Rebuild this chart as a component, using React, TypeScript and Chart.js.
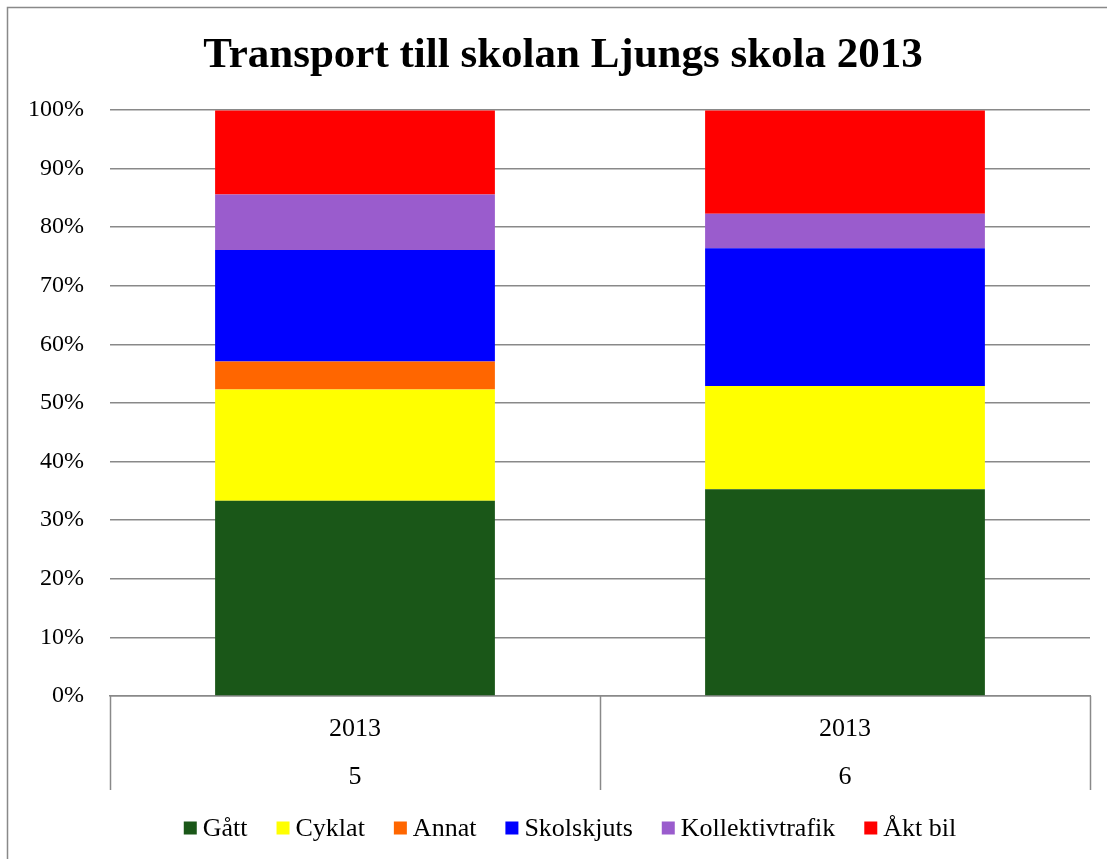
import React, { useEffect, useRef } from "react";
import { Chart, registerables } from "chart.js";

Chart.register(...registerables);

const categories: string[][] = [["2013", "5"], ["2013", "6"]];
const seriesNames = ["Gått", "Cyklat", "Annat", "Skolskjuts", "Kollektivtrafik", "Åkt bil"];
const gatt = [33.3, 35.3];
const cyklat = [19.0, 17.6];
const annat = [4.8, 0];
const skolskjuts = [19.0, 23.5];
const kollektivtrafik = [9.5, 5.9];
const aktBil = [14.3, 17.6];
const seriesColors = ["#1a5718", "#ffff00", "#ff6600", "#0000ff", "#9a5ccd", "#ff0000"];
const yTicks = [0, 10, 20, 30, 40, 50, 60, 70, 80, 90, 100];
const title = "Transport till skolan Ljungs skola 2013";

const W = 1107;
const H = 859;
const FONT = "'Liberation Serif', 'Times New Roman', serif";
const GRID = "#898989";

const decorPlugin = {
  id: "decor",
  afterDraw(chart: any) {
    const ctx = chart.ctx as CanvasRenderingContext2D;
    const area = chart.chartArea;
    const xs = chart.scales.x;
    ctx.save();
    // outer border (top & left visible)
    ctx.strokeStyle = GRID;
    ctx.lineWidth = 1.5;
    ctx.beginPath();
    ctx.moveTo(7.5, H);
    ctx.lineTo(7.5, 7.5);
    ctx.lineTo(W, 7.5);
    ctx.stroke();
    // category separators below axis
    const p0 = xs.getPixelForValue(0);
    const p1 = xs.getPixelForValue(1);
    const mid = (p0 + p1) / 2;
    ctx.lineWidth = 1.5;
    [area.left, mid, area.right].forEach((x: number) => {
      ctx.beginPath();
      ctx.moveTo(Math.round(x) + 0.5, area.bottom);
      ctx.lineTo(Math.round(x) + 0.5, 790);
      ctx.stroke();
    });
    // title
    ctx.fillStyle = "#000";
    ctx.font = `bold 43px ${FONT}`;
    ctx.textAlign = "center";
    ctx.textBaseline = "middle";
    ctx.fillText(title, 563, 56);
    // legend
    ctx.font = `26px ${FONT}`;
    const box = 13;
    const gapBox = 6;
    const gapItem = 29;
    const ds = chart.data.datasets;
    const widths = ds.map((d: any) => ctx.measureText(d.label).width);
    let total = 0;
    widths.forEach((w: number, i: number) => {
      total += box + gapBox + w + (i < widths.length - 1 ? gapItem : 0);
    });
    let x = 570 - total / 2;
    const y = 828;
    ctx.textAlign = "left";
    ds.forEach((d: any, i: number) => {
      ctx.fillStyle = d.backgroundColor;
      ctx.fillRect(x, y - box / 2, box, box);
      ctx.fillStyle = "#000";
      ctx.fillText(d.label, x + box + gapBox, y + 1);
      x += box + gapBox + widths[i] + gapItem;
    });
    ctx.restore();
  },
};

export default function App() {
  const ref = useRef<HTMLCanvasElement | null>(null);
  useEffect(() => {
    if (!ref.current) return;
    const values = [gatt, cyklat, annat, skolskjuts, kollektivtrafik, aktBil];
    const chart = new Chart(ref.current, {
      type: "bar",
      data: {
        labels: categories,
        datasets: seriesNames.map((name, i) => ({
          label: name,
          data: values[i],
          backgroundColor: seriesColors[i],
          borderWidth: 0,
          barPercentage: 0.571,
          categoryPercentage: 1,
        })),
      },
      options: {
        responsive: false,
        animation: false,
        devicePixelRatio: 1,
        layout: { padding: { top: 110, right: 17, bottom: 0, left: 0 } },
        plugins: {
          legend: { display: false },
          title: { display: false },
          tooltip: { enabled: false },
        },
        scales: {
          x: {
            stacked: true,
            grid: { display: false, drawTicks: false },
            border: { display: true, color: GRID, width: 1.5 },
            ticks: {
              color: "#000",
              font: { family: FONT, size: 26, lineHeight: 1.846 },
              padding: 9,
              maxRotation: 0,
            },
            afterFit: (s: any) => {
              s.height = H - 696;
            },
          },
          y: {
            stacked: true,
            min: 0,
            max: 100,
            afterBuildTicks: (s: any) => {
              s.ticks = yTicks.map((v) => ({ value: v }));
            },
            grid: { color: GRID, lineWidth: 1.5, drawTicks: false },
            border: { display: false },
            ticks: {
              color: "#000",
              font: { family: FONT, size: 24 },
              padding: 26,
              callback: (v: any) => `${v}%`,
            },
            afterFit: (s: any) => {
              s.width = 110;
            },
          },
        },
      },
      plugins: [decorPlugin],
    });
    return () => chart.destroy();
  }, []);
  return (
    <div style={{ position: "absolute", left: 0, top: 0, width: W, height: H, background: "#fff" }}>
      <canvas ref={ref} width={W} height={H} style={{ display: "block", width: W, height: H }} />
    </div>
  );
}
